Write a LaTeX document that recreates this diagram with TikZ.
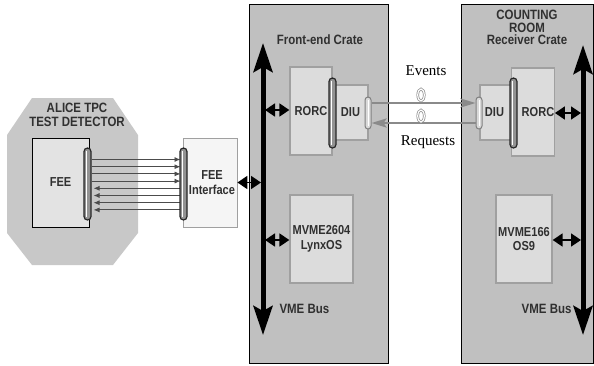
\documentclass[tikz,border=0pt]{standalone}
\usepackage{fontspec}
\setmainfont{Liberation Sans}
\newfontfamily\nb{Liberation Sans}[FakeStretch=0.85]
\newfontfamily\tms{Liberation Serif}
\usetikzlibrary{arrows.meta,shapes.geometric}
\definecolor{crategray}{HTML}{C0C0C0}
\definecolor{octgray}{HTML}{C8C8C8}
\definecolor{boxfill}{HTML}{DCDCDC}
\definecolor{boxline}{HTML}{A0A0A0}
\definecolor{txt}{HTML}{303030}
\definecolor{linkgray}{HTML}{8A8A8A}
\begin{document}
\begin{tikzpicture}[x=1pt,y=-1pt,
  cratebox/.style={draw=black, line width=0.8pt, fill=crategray, inner sep=0, minimum height=359pt},
  inbox/.style={draw=boxline, line width=1.3pt, fill=boxfill, inner sep=0},
  lbl/.style={font=\nb\bfseries\fontsize{13}{14.5}\selectfont, text=txt, align=center},
  title/.style={font=\nb\bfseries\fontsize{13.5}{14.5}\selectfont, text=txt, align=center},
  serif/.style={font=\tms\fontsize{15}{16}\selectfont, text=black},
  bigconn/.style={rectangle, rounded corners=3.5pt, minimum width=7pt, inner sep=0,
    draw=black!85, line width=1.2pt, fill=gray!85,
    path picture={\draw[white, line width=0.9pt] ([yshift=-3pt,xshift=-0.7pt]path picture bounding box.north) -- ([yshift=3pt,xshift=-0.7pt]path picture bounding box.south);}},
  smallconn/.style={rectangle, rounded corners=3pt, minimum width=6pt, inner sep=0,
    draw=gray, line width=1pt, fill=gray!30,
    path picture={\draw[white, line width=0.8pt] ([yshift=-3pt]path picture bounding box.north) -- ([yshift=3pt]path picture bounding box.south);}},
  bus/.style={line width=5pt, {Stealth[length=29pt,width=19pt,inset=5pt]}-{Stealth[length=29pt,width=19pt,inset=5pt]}},
  dbl/.style={line width=1.8pt, {Triangle[length=10pt,width=13pt]}-{Triangle[length=10pt,width=13pt]}},
  wire/.style={line width=0.9pt, draw=black!70, -{Latex[length=6pt,width=5pt]}},
  link/.style={line width=2.4pt, draw=linkgray, -{Stealth[length=15pt,width=9pt,inset=3pt]}},
  loop/.style={ellipse, draw=linkgray, line width=0.7pt, double=white, double distance=1.2pt, minimum width=6.5pt, minimum height=12pt, inner sep=0}
]
\useasboundingbox (0,0) rectangle (594,365);

% detector octagon
\fill[octgray] (32,98) -- (113,98) -- (138,135) -- (138,233) -- (113,265) -- (32,265) -- (7,233) -- (7,135) -- cycle;
\node[title] (alice) at (77,115) {ALICE TPC\\[-1pt]TEST DETECTOR};

% crates
\node[cratebox, minimum width=139pt] (fcrate) at (318.5,183.5) {};
\node[cratebox, minimum width=132pt] (rcrate) at (527,183.5) {};
\node[title] (ftitle) at (320,40) {Front-end Crate};
\node[title] (rtitle) at (527,27.5) {COUNTING\\[-2pt]ROOM\\[-2pt]Receiver Crate};

% boxes
\node[draw=black, line width=1pt, fill=boxfill!80!white, minimum width=57pt, minimum height=89pt, inner sep=0, lbl] (fee) at (60.5,182.5) {FEE};
\node[draw=boxline, line width=0.8pt, fill=white!96!black, minimum width=54pt, minimum height=89pt, inner sep=0, lbl] (feeif) at (210,182.5) {\kern4pt FEE\\\kern4pt Interface};
\node[inbox, lbl, minimum width=42pt, minimum height=88pt] (frorc) at (311,111) {RORC};
\node[inbox, lbl, minimum width=35pt, minimum height=55pt] (fdiu) at (350.5,112.5) {DIU};
\node[inbox, lbl, minimum width=63pt, minimum height=88pt] (fmvme) at (321.5,239) {MVME2604\\LynxOS};
\node[inbox, lbl, minimum width=32pt, minimum height=55pt] (rdiu) at (496,112.5) {DIU\kern3pt};
\node[inbox, lbl, minimum width=40pt, minimum height=88pt] (rrorc) at (533,112) {\kern10pt RORC};
\node[inbox, lbl, minimum width=56pt, minimum height=88pt] (rmvme) at (524,239) {MVME166\\OS9};

% VME buses
\coordinate (fbtop) at (263,43);
\coordinate (fbbot) at (263,335);
\coordinate (rbtop) at (583,45);
\coordinate (rbbot) at (583,335);
\draw[bus] (fbbot) -- (fbtop);
\draw[bus] (rbbot) -- (rbtop);
\node[title, anchor=west] (fvme) at (276,309) {VME Bus};
\node[title, anchor=east] (rvme) at (575,309) {VME Bus};

% wires between FEE and interface
\coordinate (c1pos) at (87.5,184);
\coordinate (c2pos) at (183.5,184);
\foreach \dy in {24.5,17.3,10.1,2.9}{
  \draw[wire, shorten <=4pt, shorten >=3pt] ([yshift=\dy pt]c1pos) -- ([yshift=\dy pt]c2pos);
}
\foreach \dy in {-4.3,-11.5,-18.7,-25.9}{
  \draw[wire, shorten >=6pt] ([yshift=\dy pt]c2pos) -- ([yshift=\dy pt]c1pos);
}

% connectors
\node[bigconn, minimum height=72pt] (c1) at (c1pos) {};
\node[bigconn, minimum height=72pt] (c2) at (c2pos) {};
\node[bigconn, minimum height=70pt] (c3) at (332.5,113) {};
\node[smallconn, minimum height=32pt] (c4) at (368,113) {};
\node[smallconn, minimum height=32pt] (c5) at (479,113) {};
\node[bigconn, minimum height=70pt] (c6) at (513.5,113) {};

% bus double arrows
\draw[dbl] (feeif.east) -- ([xshift=-2pt]feeif.east -| fbtop);
\draw[dbl] ([yshift=1pt]frorc.west) -- ([yshift=1pt,xshift=2pt]frorc.west -| fbtop);
\draw[dbl] ([yshift=-1pt]fmvme.west) -- ([yshift=-1pt,xshift=2pt]fmvme.west -| fbtop);
\draw[dbl] ([yshift=-1pt]rrorc.east) -- ([yshift=-1pt,xshift=-2pt]rrorc.east -| rbtop);
\draw[dbl] ([yshift=-1pt]rmvme.east) -- ([yshift=-1pt,xshift=-2pt]rmvme.east -| rbtop);

% optical links
\draw[link] ([yshift=10pt]c4.east) -- ([yshift=10pt]c5.west);
\draw[link] ([yshift=-10pt]c5.west) -- ([yshift=-10pt]c4.east);
\node[loop] (loopev) at (421,95) {};
\node[loop] (looprq) at (421,116) {};
\node[serif] (events) at (426,71) {Events};
\node[serif] (requests) at (428,142) {Requests};
\end{tikzpicture}
\end{document}
